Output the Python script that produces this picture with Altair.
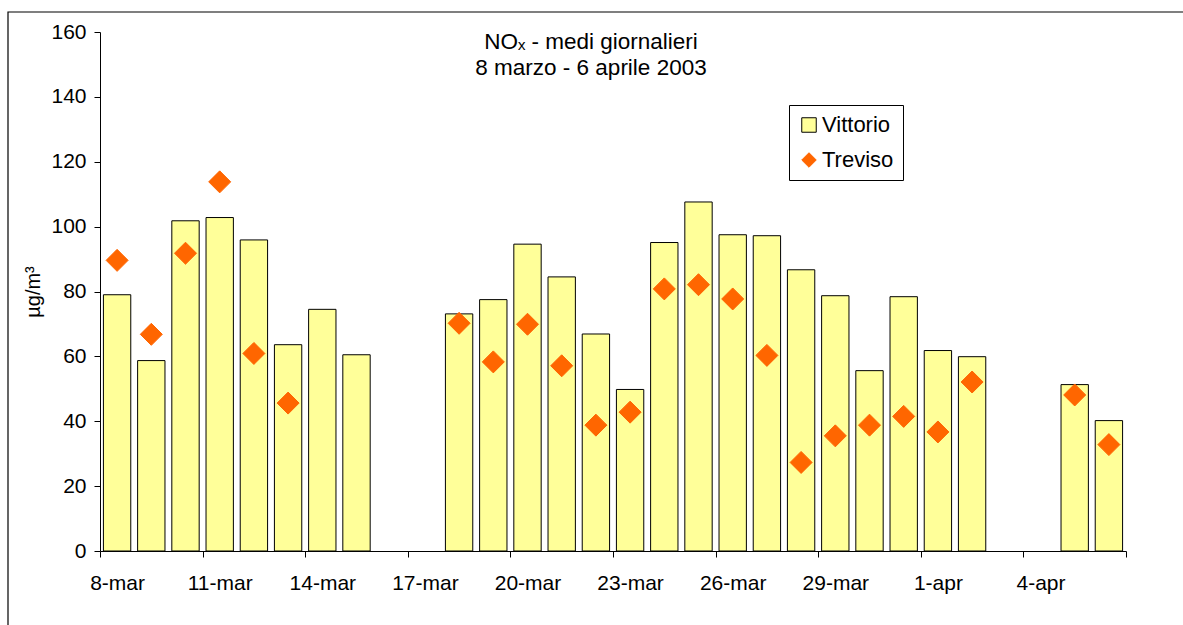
import json
import altair as alt
import pandas as pd

# ---------------- data ----------------
dates = ["8-mar", "9-mar", "10-mar", "11-mar", "12-mar", "13-mar", "14-mar", "15-mar",
         "16-mar", "17-mar", "18-mar", "19-mar", "20-mar", "21-mar", "22-mar", "23-mar",
         "24-mar", "25-mar", "26-mar", "27-mar", "28-mar", "29-mar", "30-mar", "31-mar",
         "1-apr", "2-apr", "3-apr", "4-apr", "5-apr", "6-apr"]

vittorio = [79.0, 58.7, 101.8, 102.8, 95.9, 63.6, 74.5, 60.5,
            None, None, 73.1, 77.5, 94.6, 84.5, 66.9, 49.8,
            95.1, 107.6, 97.5, 97.2, 86.7, 78.7, 55.6, 78.4,
            61.8, 59.9, None, None, 51.3, 40.2]

treviso = [89.6, 66.8, 91.8, 113.8, 60.9, 45.6, None, None,
           None, None, 70.2, 58.3, 69.9, 57.1, 38.8, 42.8,
           80.8, 82.1, 77.7, 60.3, 27.3, 35.5, 38.8, 41.5,
           36.7, 52.1, None, None, 48.1, 32.8]

series_names = ["Vittorio", "Treviso"]
y_ticks = [0, 20, 40, 60, 80, 100, 120, 140, 160]
label_every = 3
title_lines = ["NOₓ - medi giornalieri", "8 marzo - 6 aprile 2003"]
y_title = "µg/m³"

df = pd.DataFrame({"i": list(range(len(dates))), "date": dates,
                   "Vittorio": vittorio, "Treviso": treviso})

# ---------------- layout ----------------
FONT = "Liberation Sans"
W, H = 1026, 519
PAD = {"left": 100, "top": 32, "right": 1183 - 100 - W, "bottom": 625 - 32 - H}
n = len(dates)
half_band = W / n / 2

x_scale = alt.Scale(domain=[0, n], nice=False, zero=False)
y_scale = alt.Scale(domain=[0, 160], nice=False)

x_axis = alt.Axis(
    values=list(range(0, n + 1, label_every)),
    labelExpr=f"datum.value < {n} ? {json.dumps(dates)}[datum.value] : ''",
    labelOffset=half_band, labelAlign="center", labelFlush=False,
    labelOverlap=False, labelBound=False,
    tickSize=6, labelPadding=15, labelFontSize=21, labelFont=FONT,
    labelColor="#000000", domainColor="#000000", tickColor="#000000",
    grid=False, title=None,
)
y_axis = alt.Axis(
    values=y_ticks, tickSize=6, labelPadding=8, labelFontSize=21, labelFont=FONT,
    labelColor="#000000", domainColor="#000000", tickColor="#000000", grid=False,
    title=y_title, titleFont=FONT, titleFontSize=20, titleFontWeight="normal",
    titleColor="#000000", titleAngle=270, titleX=-67, titleY=H / 2,
    titleAlign="center", titleBaseline="middle",
)

legend = alt.Legend(
    title=None, orient="none", legendX=689, legendY=73, padding=9,
    strokeColor="#000000", fillColor="#ffffff", labelFontSize=22, labelFont=FONT,
    labelColor="#000000", symbolSize=210, rowPadding=13, labelOffset=2,
    symbolStrokeWidth=1,
)

# ---------------- layers ----------------
frame = alt.Chart(alt.Data(values=[{"a": 1}])).mark_rect(
    fillOpacity=0, stroke="#000000", strokeWidth=1.2
).encode(x=alt.value(-92), y=alt.value(-20), x2=alt.value(1100), y2=alt.value(620))

bars = alt.Chart(df).transform_filter("isValid(datum.Vittorio)").transform_calculate(
    x0="datum.i + 0.1", x1="datum.i + 0.9"
).mark_bar(fill="#FFFF99", stroke="#000000", strokeWidth=1).encode(
    x=alt.X("x0:Q", scale=x_scale, axis=x_axis),
    x2="x1:Q",
    y=alt.Y("Vittorio:Q", scale=y_scale, axis=y_axis),
    y2=alt.datum(0),
)

pts = alt.Chart(df).transform_filter("isValid(datum.Treviso)").transform_calculate(
    xc="datum.i + 0.5", series="'Treviso'"
).mark_point(filled=True, size=484, opacity=1, strokeWidth=1).encode(
    x=alt.X("xc:Q", scale=x_scale, axis=x_axis),
    y=alt.Y("Treviso:Q", scale=y_scale, axis=y_axis),
    color=alt.Color("series:N", scale=alt.Scale(domain=series_names, range=["#FFFF99", "#FF6600"]), legend=legend),
    shape=alt.Shape("series:N", scale=alt.Scale(domain=series_names, range=["square", "diamond"]), legend=legend),
    stroke=alt.Stroke("series:N", scale=alt.Scale(domain=series_names, range=["#000000", "#FF6600"]), legend=legend),
)

t1 = alt.Chart(alt.Data(values=[{"a": 1}])).mark_text(
    text=title_lines[0], font=FONT, fontSize=22.5, color="#000000", align="center", baseline="middle"
).encode(x=alt.value(491), y=alt.value(10))
t2 = alt.Chart(alt.Data(values=[{"a": 1}])).mark_text(
    text=title_lines[1], font=FONT, fontSize=22.5, color="#000000", align="center", baseline="middle"
).encode(x=alt.value(491), y=alt.value(36))

chart = alt.layer(frame, bars, pts, t1, t2).properties(
    width=W, height=H, autosize=alt.AutoSizeParams(type="none"), padding=PAD,
    background="#ffffff",
).configure_view(stroke=None)

chart.save("out.html", embed_options={"renderer": "svg", "actions": False})
